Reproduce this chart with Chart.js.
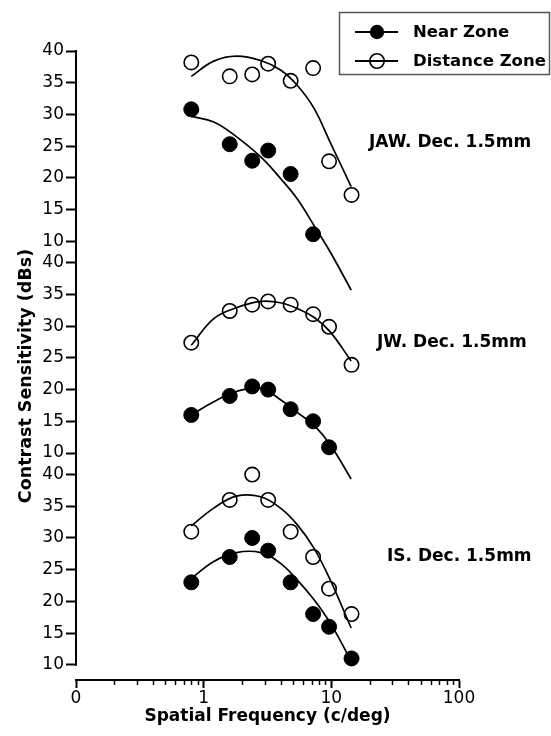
<!DOCTYPE html>
<html>
<head>
<meta charset="utf-8">
<script src="https://cdn.jsdelivr.net/npm/chart.js@4"></script>
<style>
  html, body { margin: 0; padding: 0; background: #fff; }
</style>
</head>
<body>
<canvas id="csfChart" width="551" height="736"></canvas>
<script>
// spatial frequency of the measured points (c/deg)
const freq = [0.8, 1.6, 2.4, 3.2, 4.8, 7.2, 9.6, 14.4];
// positions
const fitFreq = [0.8, 1.2, 1.8, 2.8, 4, 5.4, 7.3, 9.8, 14.3];

// JAW
const jawNear = [30.8, 25.3, 22.7, 24.3, 20.6, 11.1];
const jawDistance = [38.2, 36.0, 36.3, 38.0, 35.3, 37.3, 22.6, 17.3];
const jawNearFit = [29.7, 28.8, 26.5, 23.3, 19.9, 16.7, 12.5, 8.3, 2.3];
const jawDistanceFit = [36.0, 38.4, 39.2, 38.5, 37.0, 34.6, 31.0, 25.6, 18.6];

// JW
const jwNear = [16.0, 19.0, 20.5, 20.0, 16.9, 15.0, 10.9];
const jwDistance = [27.4, 32.4, 33.4, 33.9, 33.4, 31.9, 29.9, 23.9];
const jwNearFit = [16.0, 18.1, 19.7, 20.2, 18.4, 16.4, 14.4, 11.3, 5.9];
const jwDistanceFit = [27.0, 31.2, 32.9, 33.9, 33.7, 32.8, 31.4, 29.1, 24.5];

// IS
const isNear = [23.0, 27.0, 30.0, 28.0, 23.0, 18.0, 16.0, 11.0];
const isDistance = [31.0, 36.0, 40.0, 36.0, 31.0, 27.0, 22.0, 18.0];
const isNearFit = [23.6, 26.3, 27.7, 27.7, 26.0, 23.4, 20.3, 16.6, 10.6];
const isDistanceFit = [31.9, 34.7, 36.6, 36.5, 34.7, 32.1, 28.4, 23.4, 15.8];

const xTicks = [0.1, 1, 10, 100];
const xTickLabels = ['0', '1', '10', '100'];
const xMinorTicks = [0.2, 0.3, 0.4, 0.5, 0.6, 0.7, 0.8, 0.9, 2, 3, 4, 5, 6, 7, 8, 9, 20, 30, 40, 50, 60, 70, 80, 90];
const yTicks = [10, 15, 20, 25, 30, 35, 40];
const panelLabels = ['JAW. Dec. 1.5mm', 'JW. Dec. 1.5mm', 'IS. Dec. 1.5mm'];
const seriesNames = ['Near Zone', 'Distance Zone'];

const FONT = 'DejaVu Sans';

function toXY(xs, ys) {
    return ys.map((y, i) => ({ x: xs[i], y: y }));
}

// points of one series
function pointSet(label, values, axis, filled) {
    return {
        label: label,
        data: toXY(freq, values),
        yAxisID: axis,
        showLine: false,
        clip: false,
        pointStyle: 'circle',
        pointRadius: filled ? 7.5 : 7.2,
        pointHoverRadius: filled ? 7.5 : 7.2,
        pointBackgroundColor: filled ? '#000' : 'rgba(0,0,0,0)',
        pointBorderColor: '#000',
        pointBorderWidth: filled ? 1 : 1.6
    };
}

// fitted curve
function fitSet(label, values, axis) {
    return {
        label: label,
        data: toXY(fitFreq, values),
        yAxisID: axis,
        showLine: true,
        clip: false,
        borderColor: '#000',
        borderWidth: 1.7,
        pointRadius: 0,
        pointHoverRadius: 0,
        tension: 0.4
    };
}

function panelAxis(min, weight, order) {
    return {
        type: 'linear',
        position: 'left',
        stack: 'panels',
        stackWeight: weight,
        weight: order,
        min: min,
        max: 40,
        afterBuildTicks: s => { s.ticks = yTicks.map(v => ({ value: v })); },
        afterFit: s => { s.width = 76; },
        border: { display: false },
        grid: { drawOnChartArea: false, drawTicks: true, tickLength: 10, tickWidth: 2, tickColor: '#000' },
        ticks: { color: '#000', padding: 2, autoSkip: false, font: { family: FONT, size: 17 } }
    };
}

// axis line, minor ticks, y title, panel labels, legend box
const decorPlugin = {
    id: 'decor',
    afterDraw(chart) {
        const ctx = chart.ctx;
        const xs = chart.scales.x;
        const top = chart.scales.yTop, bot = chart.scales.yBot;
        const left = chart.chartArea.left;
        ctx.save();
        ctx.strokeStyle = '#000';
        ctx.fillStyle = '#000';

        // continuous y axis line
        ctx.lineWidth = 2;
        ctx.beginPath();
        ctx.moveTo(left, top.getPixelForValue(40) - 1);
        ctx.lineTo(left, bot.getPixelForValue(10) + 1);
        ctx.stroke();

        // minor x ticks
        ctx.lineWidth = 1.5;
        xMinorTicks.forEach(v => {
            const px = Math.round(xs.getPixelForValue(v)) + 0.5;
            ctx.beginPath();
            ctx.moveTo(px, xs.top);
            ctx.lineTo(px, xs.top + 5);
            ctx.stroke();
        });

        // y title
        ctx.save();
        ctx.translate(26, 376);
        ctx.rotate(-Math.PI / 2);
        ctx.font = 'bold 17.5px "' + FONT + '"';
        ctx.textAlign = 'center';
        ctx.textBaseline = 'middle';
        ctx.fillText('Contrast Sensitivity (dBs)', 0, 0);
        ctx.restore();

        // panel labels
        ctx.font = 'bold 17px "' + FONT + '"';
        ctx.textAlign = 'left';
        ctx.textBaseline = 'middle';
        const labelPos = [[369, 143], [377, 343], [387, 557]];
        panelLabels.forEach((t, i) => ctx.fillText(t, labelPos[i][0], labelPos[i][1]));

        // legend
        ctx.strokeStyle = '#555';
        ctx.lineWidth = 1.5;
        ctx.strokeRect(339.5, 12.5, 210, 62);
        ctx.strokeStyle = '#000';
        ctx.font = 'bold 16.5px "' + FONT + '"';
        seriesNames.forEach((name, i) => {
            const cy = 32 + i * 29;
            ctx.lineWidth = 2;
            ctx.beginPath();
            ctx.moveTo(355, cy);
            ctx.lineTo(398, cy);
            ctx.stroke();
            ctx.beginPath();
            ctx.arc(377, cy, 7.2, 0, Math.PI * 2);
            if (i === 0) {
                ctx.fill();
            } else {
                ctx.lineWidth = 1.6;
                ctx.stroke();
            }
            ctx.fillText(name, 413, cy + 1);
        });
        ctx.restore();
    }
};

const ctx = document.getElementById('csfChart').getContext('2d');

const csfChart = new Chart(ctx, {
    type: 'scatter',
    data: {
        datasets: [
            pointSet('JAW Near Zone', jawNear, 'yTop', true),
            pointSet('JAW Distance Zone', jawDistance, 'yTop', false),
            fitSet('JAW Near fit', jawNearFit, 'yTop'),
            fitSet('JAW Distance fit', jawDistanceFit, 'yTop'),
            pointSet('JW Near Zone', jwNear, 'yMid', true),
            pointSet('JW Distance Zone', jwDistance, 'yMid', false),
            fitSet('JW Near fit', jwNearFit, 'yMid'),
            fitSet('JW Distance fit', jwDistanceFit, 'yMid'),
            pointSet('IS Near Zone', isNear, 'yBot', true),
            pointSet('IS Distance Zone', isDistance, 'yBot', false),
            fitSet('IS Near fit', isNearFit, 'yBot'),
            fitSet('IS Distance fit', isDistanceFit, 'yBot')
        ]
    },
    options: {
        responsive: false,
        animation: false,
        layout: { padding: { top: 51, right: 92, left: 0, bottom: 0 } },
        scales: {
            x: {
                type: 'logarithmic',
                position: 'bottom',
                min: 0.1,
                max: 100,
                afterBuildTicks: s => { s.ticks = xTicks.map(v => ({ value: v })); },
                afterFit: s => { s.height = 56; },
                border: { display: true, color: '#000', width: 2 },
                grid: { drawOnChartArea: false, drawTicks: true, tickLength: 8, tickWidth: 2, tickColor: '#000' },
                ticks: {
                    color: '#000',
                    padding: 0,
                    maxRotation: 0,
                    autoSkip: false,
                    font: { family: FONT, size: 17 },
                    callback: (v, i) => xTickLabels[i]
                },
                title: {
                    display: true,
                    text: 'Spatial Frequency (c/deg)',
                    color: '#000',
                    font: { family: FONT, size: 17, weight: 'bold' },
                    padding: { top: 0, bottom: 9 }
                }
            },
            yTop: panelAxis(6.6, 33.4, 3),
            yMid: panelAxis(6.6, 33.4, 2),
            yBot: panelAxis(7.6, 32.4, 1)
        },
        plugins: {
            legend: { display: false },
            tooltip: { enabled: true }
        }
    },
    plugins: [decorPlugin]
});
</script>
</body>
</html>
